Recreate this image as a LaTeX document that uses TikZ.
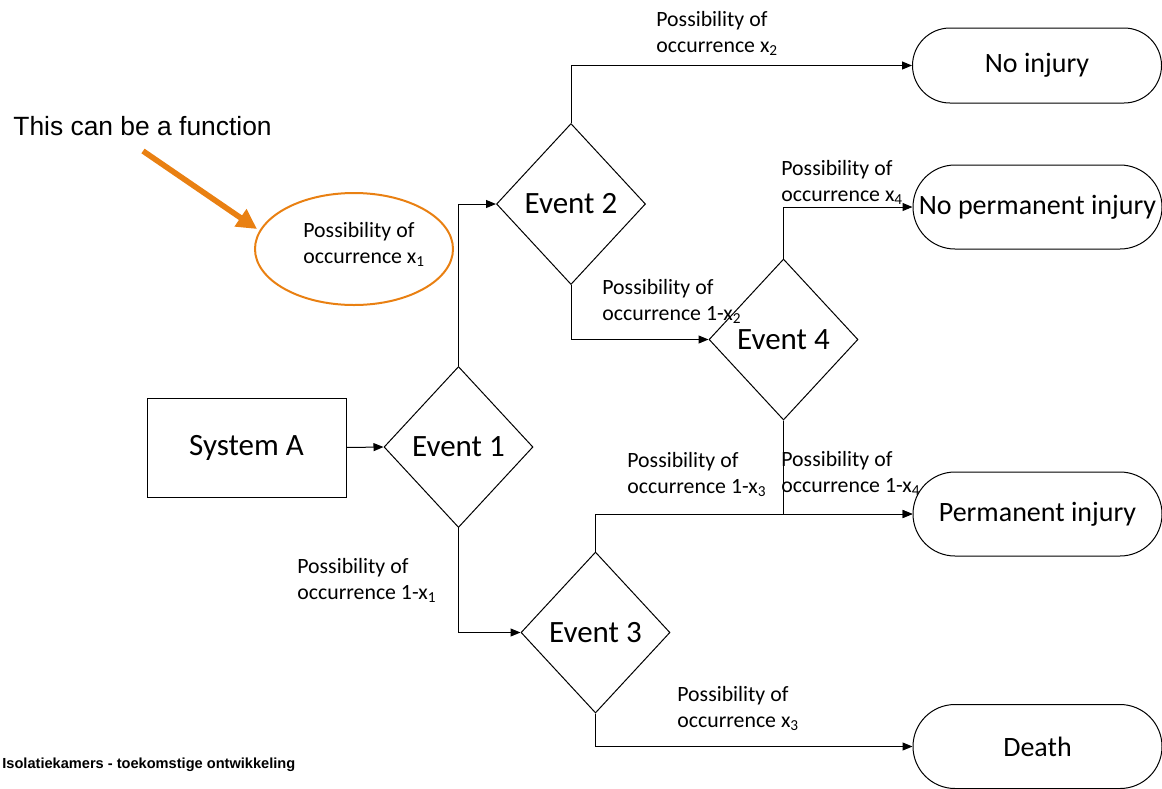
\documentclass[tikz,border=0pt]{standalone}
\usepackage{fontspec}
\setmainfont{Carlito}
\newfontfamily\arialfont{Liberation Sans}
\usetikzlibrary{shapes.geometric,arrows.meta}

\definecolor{accent}{RGB}{233,128,18}

\tikzset{
  link/.style={line width=0.5pt,-{Triangle[length=5pt,width=4pt]}},
  decision/.style={draw,line width=0.5pt,diamond,aspect=0.93,inner sep=0pt,
    minimum width=74.5pt,minimum height=80.5pt,font=\fontsize{15.5}{18}\selectfont},
  outcome/.style={draw,line width=0.5pt,rectangle,rounded corners=21pt,
    minimum width=124.5pt,minimum height=42pt,inner sep=0pt,font=\fontsize{14}{17}\selectfont},
  % anchored at the baseline of the second (last) line
  prob/.style={font=\fontsize{10.9}{12.75}\selectfont,align=left,anchor=base west,inner sep=0pt},
  callout/.style={accent,line width=2.8pt,-{Triangle[length=10pt,width=10pt]}}
}

\begin{document}
\begin{tikzpicture}[x=0.5pt,y=-0.5pt]
\useasboundingbox (0,0) rectangle (1162,788);

% start box and decision points
\node[draw,line width=0.5pt,minimum width=99.5pt,minimum height=49.5pt,inner sep=0pt,
      font=\fontsize{15.5}{18}\selectfont] (sysA) at (246.5,447.5) {System A};
\node[decision] (ev1) at (458.5,447) {Event 1};
\node[decision] (ev2) at (571,204) {Event 2};
\node[decision] (ev4) at (783.5,339.5) {Event 4};
\node[decision] (ev3) at (595.5,632.5) {Event 3};

% outcomes
\node[outcome,minimum height=37.5pt,rounded corners=18.75pt] (noinj) at (1037,65.5) {No injury};
\node[outcome] (noperm) at (1037.5,207) {No permanent injury};
\node[outcome] (perm) at (1037.5,514) {Permanent injury};
\node[outcome] (death) at (1037.5,746.5) {Death};

% branches
\draw[link] (sysA.east) -- (ev1.west);
\draw[link] (ev1.north) |- (ev2.west);
\draw[link] (ev1.south) |- (ev3.west);
\draw[link] (ev2.north) |- (noinj.west);
\draw[link] (ev2.south) |- (ev4.west);
\draw[link] (ev4.north) |- (noperm.west);
\draw[link] (ev4.south) |- (perm.west);
\draw[link] (ev3.north) |- (perm.west);
\draw[link] (ev3.south) |- (death.west);

% branch probabilities
\node[prob] (px2) at (656,52) {Possibility of\\occurrence x\textsubscript{2}};
\node[prob] (px4) at (781,201) {Possibility of\\occurrence x\textsubscript{4}};
\node[prob] (p1x2) at (602,320) {Possibility of\\occurrence 1-x\textsubscript{2}};
\node[prob] (p1x3) at (627,493) {Possibility of\\occurrence 1-x\textsubscript{3}};
\node[prob] (p1x4) at (781,492) {Possibility of\\occurrence 1-x\textsubscript{4}};
\node[prob] (p1x1) at (297,599) {Possibility of\\occurrence 1-x\textsubscript{1}};
\node[prob] (px3) at (677,727) {Possibility of\\occurrence x\textsubscript{3}};

% annotation
\node[draw=accent,line width=1pt,ellipse,minimum width=99pt,minimum height=56pt,inner sep=0pt]
  (ell) at (354,249) {};
\node[prob] (px1) at (303,263) {Possibility of\\occurrence x\textsubscript{1}};
\node[font=\arialfont\fontsize{13.2}{15}\selectfont,anchor=base west,inner sep=0pt]
  (note) at (13,135) {This can be a function};
\coordinate (fnTail) at (143,151);
\coordinate (fnTip) at (257,229);
\draw[callout] (fnTail) -- (fnTip);

% footer
\node[font=\arialfont\bfseries\fontsize{7.3}{9}\selectfont,anchor=base west,inner sep=0pt]
  (footer) at (2,768) {Isolatiekamers - toekomstige ontwikkeling};
\end{tikzpicture}
\end{document}
